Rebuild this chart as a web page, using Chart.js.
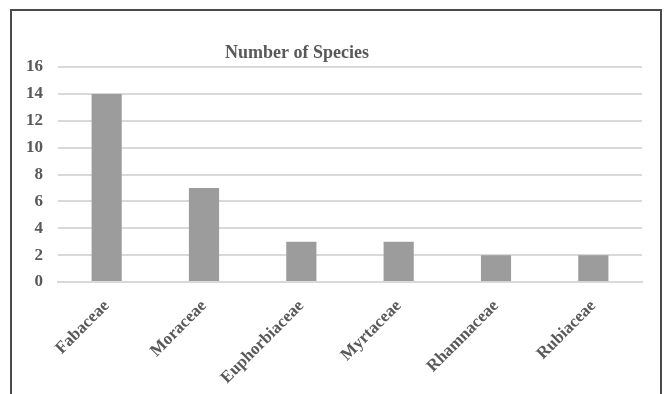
<!DOCTYPE html>
<html>
<head>
    <title>Number of Species</title>
    <script src="https://cdn.jsdelivr.net/npm/chart.js"></script>
    <style>
        body {
            margin: 0;
            padding: 0;
            overflow: hidden;
            background: #ffffff;
        }
        #wrap {
            position: absolute;
            left: 0;
            top: 0;
            width: 664px;
            height: 394px;
            overflow: hidden;
        }
        #frame {
            position: absolute;
            left: 10px;
            top: 9px;
            width: 648px;
            height: 400px;
            border: 2px solid #4a4a4a;
            pointer-events: none;
        }
    </style>
</head>
<body>
    <div id="wrap">
        <canvas id="myChart" width="664" height="404"></canvas>
        <div id="frame"></div>
    </div>

    <script>
        const families = ['Fabaceae', 'Moraceae', 'Euphorbiaceae', 'Myrtaceae', 'Rhamnaceae', 'Rubiaceae'];
        const speciesCount = [14, 7, 3, 3, 2, 2];
        const yTicks = [0, 2, 4, 6, 8, 10, 12, 14, 16];
        const chartTitle = 'Number of Species';

        const textGray = '#595959';
        const serif = "'Liberation Serif', 'Times New Roman', serif";

        // title sits left of the plot centre, as in the original
        const titlePlugin = {
            id: 'offsetTitle',
            afterDraw(chart) {
                const c = chart.ctx;
                c.save();
                c.font = 'bold 18px ' + serif;
                c.fillStyle = textGray;
                c.textAlign = 'center';
                c.textBaseline = 'middle';
                c.fillText(chartTitle, 297, 53);
                c.restore();
            }
        };

        new Chart(document.getElementById('myChart'), {
            type: 'bar',
            data: {
                labels: families,
                datasets: [{
                    label: chartTitle,
                    data: speciesCount,
                    backgroundColor: '#9c9c9c',
                    borderWidth: 0,
                    categoryPercentage: 1,
                    barPercentage: 0.31
                }]
            },
            options: {
                responsive: false,
                animation: false,
                layout: {
                    padding: { left: 11, right: 22, top: 67, bottom: 10 }
                },
                plugins: {
                    legend: { display: false },
                    tooltip: { enabled: false }
                },
                scales: {
                    x: {
                        grid: { display: false },
                        border: { color: '#d9d9d9', width: 2 },
                        ticks: {
                            color: textGray,
                            font: { family: serif, size: 17, weight: 'bold' },
                            maxRotation: 45,
                            minRotation: 45,
                            padding: 6
                        }
                    },
                    y: {
                        min: 0,
                        max: 16,
                        afterBuildTicks(axis) {
                            axis.ticks = yTicks.map(v => ({ value: v }));
                        },
                        grid: { color: '#d9d9d9', lineWidth: 2, drawTicks: false },
                        border: { display: false },
                        ticks: {
                            color: textGray,
                            font: { family: serif, size: 17, weight: 'bold' },
                            padding: 15
                        }
                    }
                }
            },
            plugins: [titlePlugin]
        });
    </script>
</body>
</html>
